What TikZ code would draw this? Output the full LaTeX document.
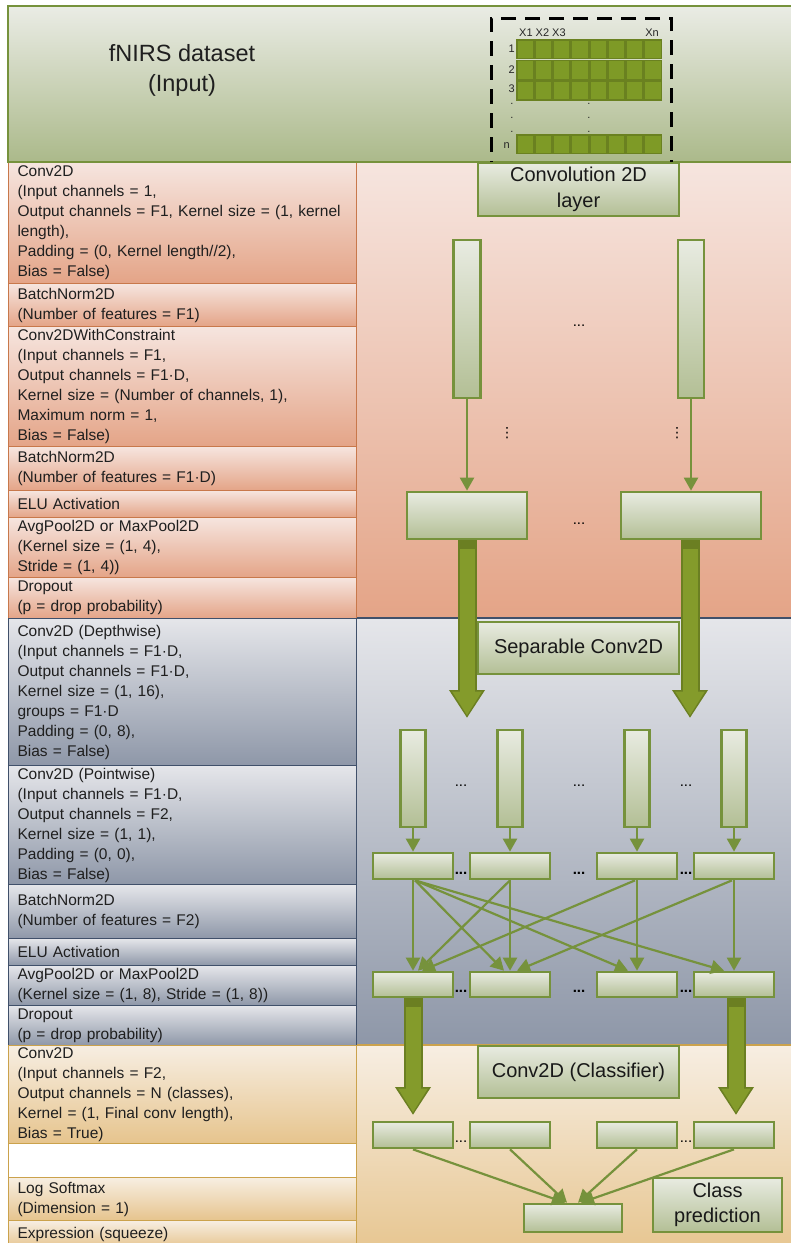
\documentclass[tikz,border=0pt]{standalone}
\usepackage{fontspec}
\setmainfont{Liberation Sans}
\newfontfamily\dejavu{DejaVu Sans}
\usetikzlibrary{arrows.meta,calc}
\definecolor{olv}{HTML}{76923C}
\definecolor{boxtop}{HTML}{E8EBE1}
\definecolor{boxbot}{HTML}{B3BF95}
\definecolor{arrfill}{HTML}{849B2B}
\definecolor{arrdark}{HTML}{6B7F22}
\definecolor{redtop}{HTML}{F6E5DF}
\definecolor{redbot}{HTML}{E4A487}
\definecolor{redline}{HTML}{C8784B}
\definecolor{graytop}{HTML}{E5E6EA}
\definecolor{graybot}{HTML}{8E97A8}
\definecolor{grayline}{HTML}{40506A}
\definecolor{tantop}{HTML}{F7EEE2}
\definecolor{tanbot}{HTML}{E6C48D}
\definecolor{tanline}{HTML}{CBA24C}
\definecolor{toptop}{HTML}{EAECE5}
\definecolor{topbot}{HTML}{ABB98A}
\definecolor{cellin}{HTML}{7E9A26}
\definecolor{cellout}{HTML}{6A8120}
\newcommand\panelfont{\fontsize{15.5}{20}\selectfont}
\begin{document}
\begin{tikzpicture}[x=1pt,y=-1pt,
  panel/.style={anchor=north west, minimum width=348pt, text width=330pt, inner xsep=9pt, inner ysep=0pt, align=left, font=\panelfont, text=black!88, line width=1.1pt},
  redp/.style={panel, draw=redline, top color=redtop, bottom color=redbot},
  grayp/.style={panel, draw=grayline, top color=graytop, bottom color=graybot},
  tanp/.style={panel, draw=tanline, top color=tantop, bottom color=tanbot},
  gbox/.style={draw=olv, line width=2.7pt, top color=boxtop, bottom color=boxbot, inner sep=0pt, align=center, font=\fontsize{20}{26}\selectfont, text=black!90},
  thinarr/.style={draw=olv, line width=2.2pt, -{Triangle[length=13pt,width=14pt]}},
  thickout/.style={draw=arrdark, line width=19pt, -{Triangle[length=28pt,width=34pt]}},
  thickin/.style={draw=arrfill, line width=15pt, -{Triangle[length=24pt,width=28pt]}},
  dots/.style={anchor=base, inner sep=0pt, font=\fontsize{15}{15}\selectfont},
  bdots/.style={dots, font=\fontsize{15}{15}\selectfont\bfseries},
  gridlbl/.style={inner sep=0pt, font=\fontsize{11}{11}\selectfont, text=black!85},
]
\useasboundingbox (0,0) rectangle (791,1243);

% section backgrounds (right)
\path[draw=redline, line width=1.1pt, top color=redtop, bottom color=redbot] (356,162) rectangle (800,618);
\path[draw=grayline, line width=1.1pt, top color=graytop, bottom color=graybot] (356,618) rectangle (800,1045);
\path[draw=tanline, line width=1.1pt, top color=tantop, bottom color=tanbot] (356,1045) rectangle (800,1260);

% left panels
\node[redp, minimum height=121pt] (p1) at (8,162) {Conv2D\\(Input channels = 1,\\Output channels = F1, Kernel size = (1, kernel\\length),\\Padding = (0, Kernel length//2),\\Bias = False)};
\node[redp, minimum height=43pt] (p2) at (8,283) {BatchNorm2D\\(Number of features = F1)};
\node[redp, minimum height=120pt] (p3) at (8,326) {Conv2DWithConstraint\\(Input channels = F1,\\Output channels = F1·D,\\Kernel size = (Number of channels, 1),\\Maximum norm = 1,\\Bias = False)};
\node[redp, minimum height=44pt] (p4) at (8,446) {BatchNorm2D\\(Number of features = F1·D)};
\node[redp, minimum height=27pt] (p5) at (8,490) {ELU Activation};
\node[redp, minimum height=60pt] (p6) at (8,517) {AvgPool2D or MaxPool2D\\(Kernel size = (1, 4),\\Stride = (1, 4))};
\node[redp, minimum height=41pt] (p7) at (8,577) {Dropout\\(p = drop probability)};
\node[grayp, minimum height=147pt] (p8) at (8,618) {Conv2D (Depthwise)\\(Input channels = F1·D,\\Output channels = F1·D,\\Kernel size = (1, 16),\\groups = F1·D\\Padding = (0, 8),\\Bias = False)};
\node[grayp, minimum height=119pt] (p9) at (8,765) {Conv2D (Pointwise)\\(Input channels = F1·D,\\Output channels = F2,\\Kernel size = (1, 1),\\Padding = (0, 0),\\Bias = False)};
\node[grayp, minimum height=54pt] (p10) at (8,884) {BatchNorm2D\\(Number of features = F2)};
\node[grayp, minimum height=27pt] (p11) at (8,938) {ELU Activation};
\node[grayp, minimum height=40pt] (p12) at (8,965) {AvgPool2D or MaxPool2D\\(Kernel size = (1, 8), Stride = (1, 8))};
\node[grayp, minimum height=40pt] (p13) at (8,1005) {Dropout\\(p = drop probability)};
\node[tanp, minimum height=98pt] (p14) at (8,1045) {Conv2D\\(Input channels = F2,\\Output channels = N (classes),\\Kernel = (1, Final conv length),\\Bias = True)};
\node[panel, draw=tanline, fill=white, minimum height=34pt] (p15) at (8,1143) {};
\node[tanp, minimum height=43pt] (p16) at (8,1177) {Log Softmax\\(Dimension = 1)};
\node[tanp, minimum height=28pt] (p17) at (8,1220) {Expression (squeeze)};

% top input panel
\path[draw=olv, line width=1.4pt, top color=toptop, bottom color=topbot] (8,6) rectangle (800,162);
\node[align=center, font=\fontsize{23.5}{30}\selectfont, text=black!88] (title) at (182,70) {fNIRS dataset\\(Input)};

% data grid
\foreach \yt in {39,59.7,80.4,134}{
  \fill[cellout] (516,\yt) rectangle +(146,20.3);
  \foreach \i in {0,...,7}{
    \fill[cellin] ({517.5+\i*18.25},{\yt+1.5}) rectangle +(15.25,17.3);
  }
}
\node[gridlbl, anchor=west] (xl) at (519,33) {X1 X2 X3};
\node[gridlbl] (xn) at (652,33) {Xn};
\node[gridlbl, anchor=east] (r1) at (515,49) {1};
\node[gridlbl, anchor=east] (r2) at (515,70) {2};
\node[gridlbl, anchor=east] (r3) at (515,89) {3};
\node[gridlbl, anchor=east] (rn) at (510,146) {n};
\foreach \yy [count=\k] in {104,118,132}{
  \node[gridlbl, anchor=base] (dl\k) at (512,\yy) {.};
  \node[gridlbl, anchor=base] (dr\k) at (589,\yy) {.};
}
\node[draw=black, line width=3pt, dash pattern=on 15pt off 9pt, minimum width=180pt, minimum height=145pt, inner sep=0pt] (inbox) at (581,90.5) {};

% red section
\node[gbox, minimum width=201pt, minimum height=53pt] (conv) at (578.5,189.5) {Convolution 2D\\layer};
\node[gbox, minimum width=27pt, minimum height=158pt] (bL) at (467,319) {};
\node[gbox, minimum width=26pt, minimum height=158pt] (bR) at (691,319) {};
\node[dots] (d1) at (579,326) {...};
\node[inner sep=0pt, font=\dejavu\fontsize{14}{14}\selectfont] (c1d) at (507,433) {⋮};
\node[inner sep=0pt, font=\dejavu\fontsize{14}{14}\selectfont] (c2d) at (677,433) {⋮};
\node[gbox, minimum width=120pt, minimum height=47pt] (rbL) at (467,515.5) {};
\node[gbox, minimum width=140pt, minimum height=47pt] (rbR) at (691,515.5) {};
\node[dots] (d2) at (579,524) {...};
\draw[thinarr] (bL.south) -- (rbL.north);
\draw[thinarr] (bR.south) -- (rbR.north);
\coordinate (tL) at (467,718);
\coordinate (tR) at (690,718);
\draw[thickout] (rbL.south) -- (tL);
\draw[thickin] ([yshift=-9pt]rbL.south) -- ([yshift=2.5pt]tL);
\draw[thickout] ([xshift=-1pt]rbR.south) -- (tR);
\draw[thickin] ([xshift=-1pt,yshift=-9pt]rbR.south) -- ([yshift=2.5pt]tR);

% gray section
\node[gbox, minimum width=201pt, minimum height=52pt] (sep) at (578.5,648) {Separable Conv2D};
\foreach \n/\xx in {1/413,2/510,3/637,4/734}{
  \node[gbox, minimum width=25pt, minimum height=97pt] (g\n) at (\xx,778.5) {};
  \node[gbox, minimum width=80pt, minimum height=26pt] (a\n) at (\xx,866) {};
  \node[gbox, minimum width=80pt, minimum height=25pt] (b\n) at (\xx,984.5) {};
  \node[gbox, minimum width=80pt, minimum height=26pt] (c\n) at (\xx,1135) {};
  \draw[thinarr] (g\n.south) -- (a\n.north);
}
\node[dots] (gd1) at (461,786) {...};
\node[dots] (gd2) at (579,786) {...};
\node[dots] (gd3) at (686,786) {...};
\node[bdots] (ad1) at (461,874) {...};
\node[bdots] (ad2) at (579,874) {...};
\node[bdots] (ad3) at (686,874) {...};
\node[bdots] (bd1) at (461,992) {...};
\node[bdots] (bd2) at (579,992) {...};
\node[bdots] (bd3) at (686,992) {...};
\node[dots] (cd1) at (461,1142) {...};
\node[dots] (cd3) at (686,1142) {...};

\draw[thinarr] (a1.south) -- (b1.north);
\draw[thinarr] ([xshift=2pt]a1.south) -- ([xshift=-6pt]b2.north);
\draw[thinarr] ([xshift=2pt]a1.south) -- ([xshift=-9pt]b3.north);
\draw[thinarr] ([xshift=2pt]a1.south) -- ([xshift=-10pt]b4.north);
\draw[thinarr] (a2.south) -- (b2.north);
\draw[thinarr] (a2.south) -- ([xshift=5pt]b1.north);
\draw[thinarr] (a3.south) -- (b3.north);
\draw[thinarr] ([xshift=-2pt]a3.south) -- ([xshift=9pt]b1.north);
\draw[thinarr] (a4.south) -- (b4.north);
\draw[thinarr] ([xshift=-2pt]a4.south) -- ([xshift=7pt]b2.north);

\coordinate (tL2) at (413,1115);
\coordinate (tR2) at (736,1115);
\draw[thickout] (b1.south) -- (tL2);
\draw[thickin] ([yshift=-9pt]b1.south) -- ([yshift=2.5pt]tL2);
\draw[thickout] ([xshift=2pt]b4.south) -- (tR2);
\draw[thickin] ([xshift=2pt,yshift=-9pt]b4.south) -- ([yshift=2.5pt]tR2);

% tan section
\node[gbox, minimum width=201pt, minimum height=52pt] (cls) at (578.5,1072) {Conv2D (Classifier)};
\node[gbox, minimum width=98pt, minimum height=28pt] (fin) at (573,1218) {};
\node[gbox, minimum width=129pt, minimum height=54pt, font=\fontsize{20}{25}\selectfont] (cp) at (717.5,1205) {Class\\prediction};
\draw[thinarr] (c1.south) -- ([xshift=-8pt]fin.north);
\draw[thinarr] (c2.south) -- ([xshift=-6pt]fin.north);
\draw[thinarr] (c3.south) -- ([xshift=5pt]fin.north);
\draw[thinarr] (c4.south) -- ([xshift=8pt]fin.north);
\end{tikzpicture}
\end{document}
